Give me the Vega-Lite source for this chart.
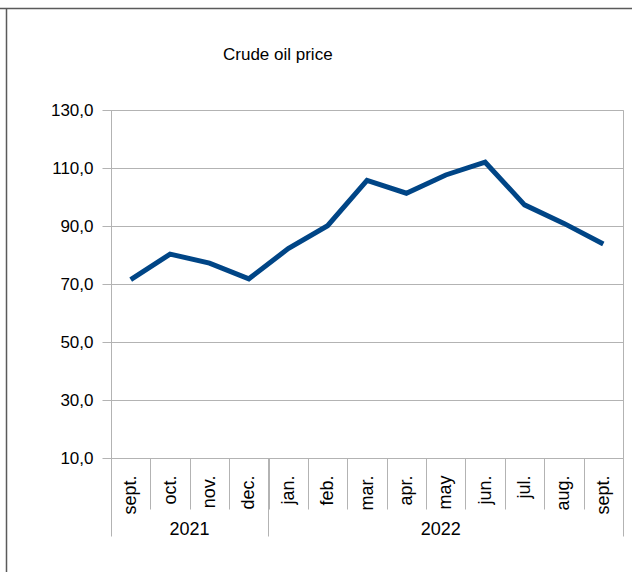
{
  "$schema": "https://vega.github.io/schema/vega-lite/v6.json",
  "width": 512,
  "height": 348,
  "autosize": {"type": "none"},
  "padding": {"left": 111, "top": 110, "right": 9, "bottom": 114},
  "title": {
    "text": "Crude oil price",
    "anchor": "start",
    "frame": "group",
    "dx": 112,
    "font": "Liberation Sans",
    "fontSize": 17,
    "fontWeight": "normal",
    "color": "#000000",
    "offset": 0,
    "baseline": "alphabetic",
    "dy": 70
  },
  "data": {
    "values": [
      {"month": "2021-09", "price": 71.5},
      {"month": "2021-10", "price": 80.3},
      {"month": "2021-11", "price": 77.2},
      {"month": "2021-12", "price": 71.8},
      {"month": "2022-01", "price": 82.2},
      {"month": "2022-02", "price": 90.1},
      {"month": "2022-03", "price": 105.7},
      {"month": "2022-04", "price": 101.3},
      {"month": "2022-05", "price": 107.6},
      {"month": "2022-06", "price": 112.0},
      {"month": "2022-07", "price": 97.3},
      {"month": "2022-08", "price": 90.9},
      {"month": "2022-09", "price": 83.8}
    ]
  },
  "resolve": {"axis": {"x": "independent", "y": "independent"}},
  "layer": [
    {
      "mark": {"type": "line", "color": "#004586", "strokeWidth": 5},
      "encoding": {
        "x": {
          "field": "month",
          "type": "ordinal",
          "sort": null,
          "scale": {"paddingInner": 0, "paddingOuter": 0},
          "axis": {
            "orient": "bottom",
            "title": null,
            "labelAngle": -90,
            "labelOverlap": false,
            "labelFontSize": 18,
            "labelExpr": "['jan.','feb.','mar.','apr.','may','jun.','jul.','aug.','sept.','oct.','nov.','dec.'][toNumber(substring(datum.value,5,7))-1]",
            "tickBand": "extent",
            "tickSize": 51,
            "labelPadding": -34,
            "domain": false
          }
        },
        "y": {
          "field": "price",
          "type": "quantitative",
          "scale": {"domain": [10, 130]},
          "axis": {
            "orient": "left",
            "title": null,
            "values": [10, 30, 50, 70, 90, 110, 130],
            "labelExpr": "replace(format(datum.value,'.1f'),'.',',')",
            "tickSize": 9,
            "labelPadding": 9,
            "grid": true
          }
        }
      }
    },
    {
      "mark": {"type": "point", "opacity": 0},
      "encoding": {
        "x": {
          "field": "month",
          "type": "ordinal",
          "sort": null,
          "axis": {
            "orient": "bottom",
            "title": null,
            "values": ["2021-09", "2022-01"],
            "bandPosition": 0,
            "tickSize": 78,
            "labels": false,
            "domain": false
          }
        }
      }
    },
    {
      "mark": {"type": "point", "opacity": 0},
      "encoding": {
        "x": {
          "field": "month",
          "type": "ordinal",
          "sort": null,
          "axis": {
            "orient": "bottom",
            "title": null,
            "values": ["2022-09"],
            "bandPosition": 1,
            "tickSize": 78,
            "labels": false,
            "domain": false
          }
        }
      }
    },
    {
      "mark": {"type": "point", "opacity": 0},
      "encoding": {
        "x": {
          "field": "month",
          "type": "ordinal",
          "sort": null,
          "axis": {
            "orient": "bottom",
            "title": null,
            "values": ["2021-11", "2022-05"],
            "ticks": false,
            "domain": false,
            "labelAngle": 0,
            "labelFontSize": 18,
            "labelPadding": 62,
            "labelExpr": "substring(datum.value,0,4)",
            "labelOffset": {"condition": {"test": "datum.value === '2021-11'", "value": -20}, "value": -5}
          }
        }
      }
    },
    {
      "mark": {"type": "point", "opacity": 0},
      "encoding": {
        "x": {
          "field": "month",
          "type": "ordinal",
          "sort": null,
          "axis": {
            "orient": "top",
            "title": null,
            "values": ["2021-09"],
            "bandPosition": 0,
            "tickOffset": -105,
            "offset": 102,
            "tickSize": -600,
            "tickColor": "#5a5a5a",
            "tickWidth": 1.5,
            "labels": false,
            "domain": false
          }
        },
        "y": {
          "field": "price",
          "type": "quantitative",
          "axis": {
            "orient": "right",
            "title": null,
            "values": [130],
            "tickOffset": -102,
            "offset": 9,
            "tickSize": -640,
            "tickColor": "#5a5a5a",
            "tickWidth": 1.5,
            "labels": false,
            "domain": false,
            "grid": false
          }
        }
      }
    }
  ],
  "config": {
    "font": "Liberation Sans",
    "view": {"stroke": "#b3b3b3", "strokeWidth": 1},
    "axis": {
      "labelFont": "Liberation Sans",
      "labelFontSize": 17,
      "labelColor": "#000000",
      "tickColor": "#b3b3b3",
      "domainColor": "#b3b3b3",
      "gridColor": "#b3b3b3",
      "tickWidth": 1,
      "gridWidth": 1,
      "domainWidth": 1
    }
  }
}
